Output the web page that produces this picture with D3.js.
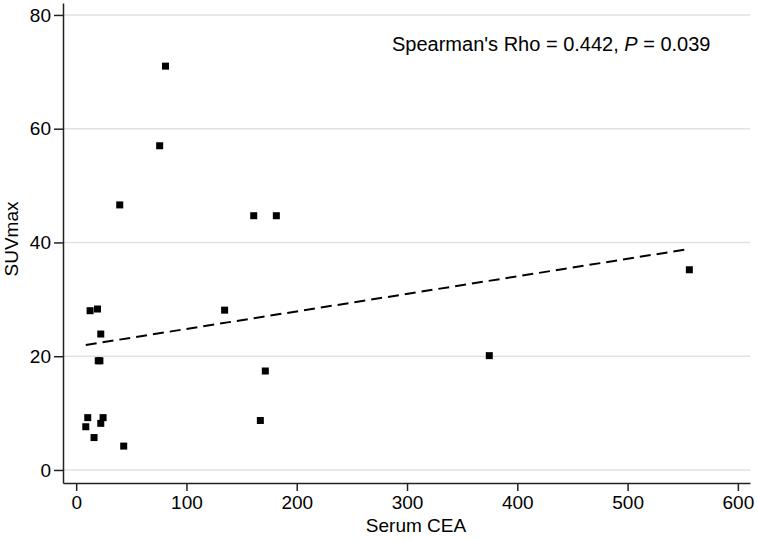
<!DOCTYPE html>
<html>
<head>
<meta charset="utf-8">
<script src="https://cdn.jsdelivr.net/npm/d3@7"></script>
<style>
  html, body { margin: 0; padding: 0; background: #fff; }
  svg { display: block; font-family: "Liberation Sans", Arial, sans-serif; }
</style>
</head>
<body>
<svg id="chart" width="757" height="540"></svg>
<script>
// Data
const serumCEA = [81, 75.7, 39.5, 161, 181.5, 556, 134.6, 12.6, 19.3, 22.3, 20, 21.5, 374.6, 171.5, 167, 10.5, 8.7, 24.4, 22.3, 16.2, 43.1];
const suvMax   = [71, 57, 46.6, 44.7, 44.7, 35.2, 28.1, 28, 28.3, 23.9, 19.2, 19.2, 20.1, 17.4, 8.7, 9.2, 7.6, 9.2, 8.2, 5.7, 4.2];
const xTicks = [0, 100, 200, 300, 400, 500, 600];
const yTicks = [0, 20, 40, 60, 80];
const fitIntercept = 21.71;
const fitSlope = 0.03084;
const xTitle = "Serum CEA";
const yTitle = "SUVmax";

(function () {
const points = serumCEA.map((x, i) => ({ x, y: suvMax[i] }));

const svg = d3.select("#chart");
const pLeft = 63, pRight = 750, pTop = 3, pBottom = 483;

const x = d3.scaleLinear().domain([-11.95, 611]).range([pLeft, pRight]);
const y = d3.scaleLinear().domain([-2.29, 82.1]).range([pBottom, pTop]);

// gridlines
svg.append("g")
  .selectAll("line")
  .data(yTicks)
  .join("line")
  .attr("x1", pLeft).attr("x2", pRight)
  .attr("y1", d => y(d)).attr("y2", d => y(d))
  .attr("stroke", "#e1e1e1")
  .attr("stroke-width", 1.5);

// axes
const yAxis = svg.append("g")
  .attr("transform", `translate(${pLeft},0)`)
  .call(d3.axisLeft(y).tickValues(yTicks).tickSize(9).tickSizeOuter(0).tickPadding(3));
const xAxis = svg.append("g")
  .attr("transform", `translate(0,${pBottom})`)
  .call(d3.axisBottom(x).tickValues(xTicks).tickSize(8).tickSizeOuter(0).tickPadding(5));

[yAxis, xAxis].forEach(g => {
  g.select(".domain").attr("stroke", "#222").attr("stroke-width", 1.5);
  g.selectAll(".tick line").attr("stroke", "#222").attr("stroke-width", 1.5);
  g.selectAll(".tick text")
    .attr("font-family", "'Liberation Sans', Arial, sans-serif")
    .attr("font-size", 19)
    .attr("fill", "#000");
});

// fit line
const xMin = d3.min(serumCEA), xMax = d3.max(serumCEA);
const fit = [xMin, xMax].map(v => ({ x: v, y: fitIntercept + fitSlope * v }));
svg.append("path")
  .datum(fit)
  .attr("d", d3.line().x(d => x(d.x)).y(d => y(d.y)))
  .attr("fill", "none")
  .attr("stroke", "#000")
  .attr("stroke-width", 2)
  .attr("stroke-dasharray", "11,6");

// markers
const ms = 7;
svg.append("g")
  .selectAll("rect")
  .data(points)
  .join("rect")
  .attr("x", d => x(d.x) - ms / 2)
  .attr("y", d => y(d.y) - ms / 2)
  .attr("width", ms)
  .attr("height", ms)
  .attr("fill", "#000");

// axis titles
svg.append("text")
  .attr("x", 416).attr("y", 532)
  .attr("text-anchor", "middle")
  .attr("font-size", 19)
  .text(xTitle);
svg.append("text")
  .attr("transform", "translate(18,239) rotate(-90)")
  .attr("text-anchor", "middle")
  .attr("font-size", 19)
  .text(yTitle);

// annotation
const ann = svg.append("text")
  .attr("x", 392).attr("y", 51)
  .attr("font-size", 20);
ann.append("tspan").text("Spearman's Rho = 0.442, ");
ann.append("tspan").attr("font-style", "italic").text("P");
ann.append("tspan").text(" = 0.039");
})();
</script>
</body>
</html>
